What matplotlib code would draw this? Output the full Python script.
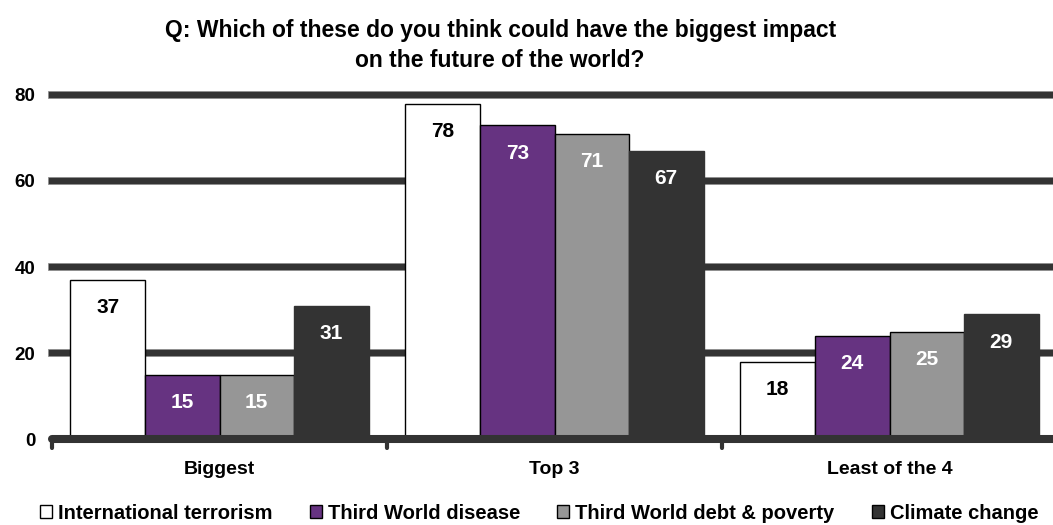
import numpy as np
import matplotlib
matplotlib.use("Agg")
import matplotlib.pyplot as plt
from matplotlib.patches import Patch

plt.rcParams["font.family"] = ["Liberation Sans", "DejaVu Sans"]
plt.rcParams["font.weight"] = "bold"

# ---- data ----
categories = ["Biggest", "Top 3", "Least of the 4"]
series = ["International terrorism", "Third World disease",
          "Third World debt & poverty", "Climate change"]
terrorism = [37, 78, 18]
disease = [15, 73, 24]
debt = [15, 71, 25]
climate = [31, 67, 29]
values = [terrorism, disease, debt, climate]
y_ticks = [0, 20, 40, 60, 80]

# ---- style ----
colors = ["#FFFFFF", "#663381", "#969696", "#333333"]
label_colors = ["black", "white", "white", "white"]
sumi = "#333333"

fig = plt.figure(figsize=(10.53, 5.25), dpi=100)
ax = fig.add_axes([52 / 1053, 86 / 525, 1005 / 1053, 344 / 525])
ax.set_xlim(-0.5, 2.5)
ax.set_ylim(0, 80)
for s in ax.spines.values():
    s.set_visible(False)

# gridlines (thick dark bands)
for yv in y_ticks[1:]:
    ax.axhline(yv, color="#8a8a8a", lw=5.6, zorder=1, clip_on=False)
    ax.axhline(yv, color=sumi, lw=4.4, zorder=1.1, clip_on=False)

# bars
x = np.arange(len(categories))
w = 0.2224
for k, (vals, c, lc) in enumerate(zip(values, colors, label_colors)):
    xs = x + (k - 1.5) * w
    bars = ax.bar(xs, vals, width=w, color=c, edgecolor="black" if k < 3 else c,
                  lw=1.0, zorder=3)
    for b, v in zip(bars, vals):
        ax.annotate(str(v), (b.get_x() + b.get_width() / 2, v),
                    textcoords="offset pixels", xytext=(0, -28),
                    ha="center", va="center", fontsize=15,
                    fontweight="bold", color=lc, zorder=4)

# baseline + category separators
ax.plot([-0.5, 2.6], [0, 0], color=sumi, lw=5.8, solid_capstyle="round",
        zorder=5, clip_on=False)
for bnd in [-0.5, 0.5, 1.5]:
    ax.plot([bnd, bnd], [0, -2.2], color=sumi, lw=3.0, solid_capstyle="round",
            zorder=5, clip_on=False)

ax.set_yticks(y_ticks)
ax.set_yticklabels([str(t) for t in y_ticks], fontsize=13.5, fontweight="bold")
ax.set_xticks(x)
ax.set_xticklabels(categories, fontsize=14, fontweight="bold")
ax.tick_params(axis="y", length=0, pad=12)
ax.tick_params(axis="x", length=0, pad=16)

fig.text(0.475, 0.914, "Q: Which of these do you think could have the biggest impact\n"
         "on the future of the world?", ha="center", va="center",
         fontsize=16.5, fontweight="bold", linespacing=1.4)

handles = [Patch(facecolor=c, edgecolor="black", lw=1.0) for c in colors]
fig.legend(handles, series, loc="lower center", bbox_to_anchor=(0.512, -0.03),
           ncol=4, frameon=False, handlelength=0.6, handleheight=0.6,
           handletextpad=0.3, columnspacing=1.85,
           prop={"size": 14.5, "weight": "bold"})

fig.savefig("out.png", dpi=100)
